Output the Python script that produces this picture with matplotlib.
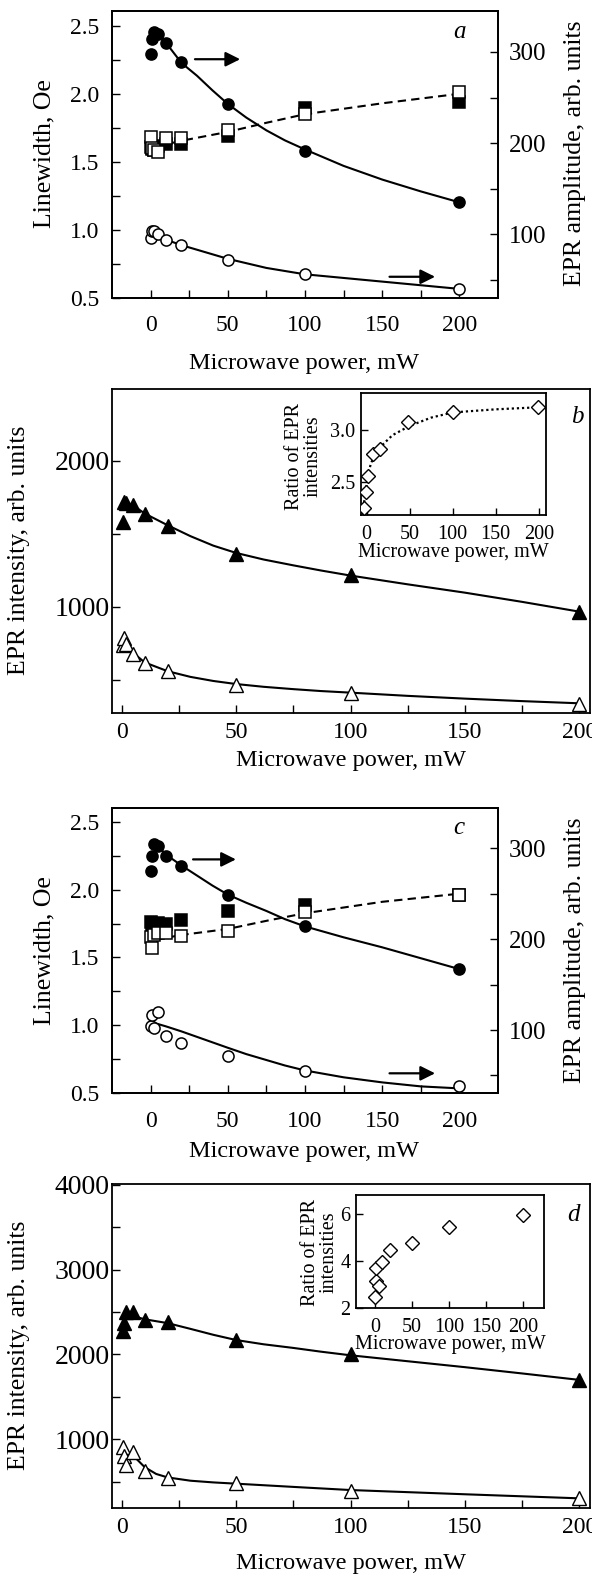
import numpy as np
import matplotlib
matplotlib.use('Agg')
import matplotlib.pyplot as plt
from matplotlib.ticker import FixedLocator, FormatStrFormatter

plt.rcParams['font.family'] = ['Liberation Serif', 'DejaVu Serif']

W, H = 592, 1577

# ---------------- data ----------------
POWER = [0.5, 1, 2, 5, 10, 20, 50, 100, 200]

# panel a
A_AMP_FILLED = [298, 314, 322, 320, 310, 289, 243, 191, 135]      # right axis
A_AMP_OPEN = [96, 104, 103, 100, 94, 88, 72, 56, 40]              # right axis
A_LW_OPEN = [1.68, 1.60, 1.59, 1.574, 1.672, 1.677, 1.733, 1.849, 2.01]
A_LW_FILLED = [1.61, 1.595, 1.585, 1.615, 1.628, 1.63, 1.69, 1.893, 1.94]
A_FIT_FILLED_X = [10, 20, 30, 40, 50, 62, 75, 87, 100, 125, 150, 175, 200]
A_FIT_FILLED_Y = [310, 288, 274, 258, 243, 228, 214, 203, 193, 175, 160, 147, 135]
A_FIT_OPEN_X = [5, 10, 20, 30, 50, 75, 100, 150, 200]
A_FIT_OPEN_Y = [99, 94, 88, 83, 73, 63, 56, 48, 40]
A_FIT_LW_X = [5, 20, 50, 75, 100, 150, 200]
A_FIT_LW_Y = [1.615, 1.655, 1.72, 1.787, 1.85, 1.93, 2.0]

# panel b
B_FILLED = [1582, 1718, 1712, 1700, 1638, 1553, 1366, 1217, 966]
B_OPEN = [738, 784, 749, 681, 616, 560, 464, 411, 338]
B_FIT_FILLED_X = [1, 5, 10, 20, 30, 40, 50, 62, 75, 87, 100, 125, 150, 175, 200]
B_FIT_FILLED_Y = [1715, 1695, 1640, 1560, 1485, 1420, 1370, 1325, 1285, 1250, 1215, 1155, 1098, 1035, 968]
B_FIT_OPEN_X = [2, 5, 10, 20, 30, 40, 50, 62, 75, 87, 100, 125, 150, 175, 200]
B_FIT_OPEN_Y = [742, 685, 620, 560, 521, 493, 472, 453, 437, 424, 413, 391, 372, 355, 340]
B_RATIO_X = [-3, -1, 2, 7, 16, 48, 100, 199]
B_RATIO_Y = [2.243, 2.397, 2.555, 2.765, 2.82, 3.074, 3.171, 3.22]
B_RFIT_X = [-3, 0, 2, 5, 10, 20, 30, 50, 75, 100, 150, 200]
B_RFIT_Y = [2.30, 2.47, 2.58, 2.68, 2.76, 2.87, 2.95, 3.04, 3.12, 3.17, 3.20, 3.22]

# panel c
C_AMP_FILLED = [275, 291, 305, 303, 291, 281, 249, 214, 167]
C_AMP_OPEN = [104, 116, 102, 120, 93, 86, 71, 55, 38.5]
C_LW_FILLED = [1.764, 1.727, 1.69, 1.752, 1.747, 1.776, 1.842, 1.887, 1.96]
C_LW_OPEN = [1.65, 1.568, 1.666, 1.678, 1.678, 1.658, 1.697, 1.837, 1.96]
C_FIT_FILLED_X = [2, 5, 10, 20, 30, 40, 50, 62, 75, 87, 100, 125, 150, 175, 200]
C_FIT_FILLED_Y = [306, 302, 293, 281, 270, 259, 249, 240, 231, 222, 214, 202, 191, 179, 167]
C_FIT_OPEN_X = [0, 10, 20, 30, 40, 50, 62, 75, 87, 100, 125, 150, 175, 200]
C_FIT_OPEN_Y = [109, 104, 98.5, 92.5, 86.5, 80.5, 73.5, 67, 61, 55.5, 48, 42.4, 38, 35.8]
C_FIT_LW_X = [2, 10, 20, 50, 75, 100, 150, 200]
C_FIT_LW_Y = [1.63, 1.645, 1.666, 1.71, 1.77, 1.826, 1.91, 1.97]

# panel d
D_FILLED = [2274, 2373, 2498, 2498, 2404, 2380, 2169, 2000, 1698]
D_OPEN = [902, 796, 694, 843, 627, 538, 479, 392, 302]
D_FIT_FILLED_X = [2, 5, 10, 20, 30, 40, 50, 62, 75, 87, 100, 125, 150, 175, 200]
D_FIT_FILLED_Y = [2470, 2452, 2415, 2370, 2302, 2232, 2170, 2120, 2077, 2033, 1990, 1920, 1850, 1776, 1700]
D_FIT_OPEN_X = [5, 10, 15, 20, 30, 40, 50, 75, 100, 125, 150, 175, 200]
D_FIT_OPEN_Y = [805, 670, 590, 549, 510, 490, 475, 437, 400, 375, 350, 326, 302]
D_RATIO_X = [0.5, 1, 5, 2, 10, 20, 50, 100, 200]
D_RATIO_Y = [2.46, 3.12, 2.92, 3.70, 3.95, 4.47, 4.78, 5.46, 5.97]

XLABEL = "Microwave power, mW"

# ---------------- helpers ----------------
fig = plt.figure(figsize=(W / 100, H / 100), dpi=100)


def rect(l, r, t, b):
    return [l / W, 1 - b / H, (r - l) / W, (b - t) / H]


def ftext(x, y, s, **kw):
    fig.text(x / W, 1 - y / H, s, **kw)


SPW = 1.3
FS = 17
IFS = 14.5
LFS = 18.5


def style(ax, xmaj, xmin, ymaj, ymin, yfmt, fs, xpad, ypad, tl=6, yfs=None):
    for sp in ax.spines.values():
        sp.set_linewidth(SPW)
    ax.xaxis.set_major_locator(FixedLocator(xmaj))
    ax.xaxis.set_minor_locator(FixedLocator(xmin))
    ax.yaxis.set_major_locator(FixedLocator(ymaj))
    ax.yaxis.set_minor_locator(FixedLocator(ymin))
    if yfmt:
        ax.yaxis.set_major_formatter(FormatStrFormatter(yfmt))
    ax.tick_params(axis='both', which='both', direction='in', length=tl,
                   width=1.0, labelsize=fs, top=False, right=False)
    ax.tick_params(axis='x', which='major', pad=xpad)
    ax.tick_params(axis='y', which='major', pad=ypad, labelsize=yfs or fs)


XMAJ = [0, 50, 100, 150, 200]
XMIN = [25, 75, 125, 175]

MS = dict(markersize=8, markeredgewidth=1.1, markeredgecolor='black', linestyle='none')


def arrow(ax, x1, x2, y):
    ax.annotate('', xy=(x2, y), xytext=(x1, y), xycoords='axes fraction',
                arrowprops=dict(arrowstyle='-|>', lw=1.6, color='black',
                                mutation_scale=22, shrinkA=0, shrinkB=0))


def linewidth_panel(rc, lw_open, lw_filled, amp_filled, amp_open,
                    ffx, ffy, fox, foy, flx, fly, ylim_l, ylim_r, arrows, letter_xy, letter):
    ax = fig.add_axes(rect(*rc))
    ax.set_xlim(-25, 225)
    ax.set_ylim(*ylim_l)
    ax.plot(flx, fly, color='black', lw=1.5, ls=(0, (4, 2.5)), zorder=2)
    ax.plot(POWER, lw_filled, marker='s', markerfacecolor='black', zorder=3, **MS)
    ax.plot(POWER, lw_open, marker='s', markerfacecolor='white', zorder=4, **MS)
    style(ax, XMAJ, XMIN, [0.5, 1.0, 1.5, 2.0, 2.5], [0.75, 1.25, 1.75, 2.25],
          '%.1f', FS, 12.5, 9)
    ax2 = ax.twinx()
    ax2.set_ylim(*ylim_r)
    ax2.plot(ffx, ffy, color='black', lw=1.5, zorder=2)
    ax2.plot(fox, foy, color='black', lw=1.5, zorder=2)
    ax2.plot(POWER, amp_filled, marker='o', markerfacecolor='black', zorder=3, **MS)
    ax2.plot(POWER, amp_open, marker='o', markerfacecolor='white', zorder=3, **MS)
    ax2.yaxis.set_major_locator(FixedLocator([100, 200, 300]))
    ax2.yaxis.set_minor_locator(FixedLocator([50, 150, 250]))
    ax2.tick_params(axis='y', which='both', direction='in', length=6, width=1.0,
                    labelsize=18, pad=8)
    for sp in ax2.spines.values():
        sp.set_linewidth(SPW)
    for (x1, x2, y) in arrows:
        arrow(ax2, x1, x2, y)
    ftext(*letter_xy, letter, fontsize=FS + 1, style='italic', ha='center', va='center')
    return ax, ax2


def intensity_panel(rc, filled, opened, ffx, ffy, fox, foy, ylim, ymaj, ymin,
                    inset_rc, rx, ry, rfx, rfy, ixlim, iylim, iymaj, iyfmt,
                    letter_xy, letter, inset_ylabel_xy, inset_xlabel_xy):
    ax = fig.add_axes(rect(*rc))
    ax.set_xlim(-4.3, 204.5)
    ax.set_ylim(*ylim)
    ax.plot(ffx, ffy, color='black', lw=1.5, zorder=2)
    ax.plot(fox, foy, color='black', lw=1.5, zorder=2)
    ax.plot(POWER, filled, marker='^', markerfacecolor='black', zorder=3,
            markersize=9.5, markeredgewidth=1.0, markeredgecolor='black', linestyle='none')
    ax.plot(POWER, opened, marker='^', markerfacecolor='white', zorder=3,
            markersize=9.5, markeredgewidth=1.0, markeredgecolor='black', linestyle='none')
    style(ax, XMAJ, XMIN, ymaj, ymin, None, FS, 6.5, 1.5, yfs=20)
    ftext(*letter_xy, letter, fontsize=FS + 1, style='italic', ha='center', va='center')

    ia = fig.add_axes(rect(*inset_rc))
    ia.set_xlim(*ixlim)
    ia.set_ylim(*iylim)
    if rfx is not None:
        ia.plot(rfx, rfy, color='black', lw=1.6, ls=(0, (1, 1.3)), zorder=2)
    ia.plot(rx, ry, marker='D', markerfacecolor='white', markeredgecolor='black',
            markersize=7, markeredgewidth=1.0, linestyle='none', zorder=3)
    style(ia, XMAJ, [], iymaj, [], iyfmt, IFS, 7.5, 4, tl=5)
    ftext(*inset_ylabel_xy, "Ratio of EPR\nintensities", fontsize=IFS, rotation=90,
          ha='center', va='center', linespacing=0.95)
    ftext(*inset_xlabel_xy, XLABEL, fontsize=IFS, ha='center', va='center')
    return ax, ia


# ---------------- panel a ----------------
linewidth_panel((112, 498, 11, 298), A_LW_OPEN, A_LW_FILLED, A_AMP_FILLED, A_AMP_OPEN,
                A_FIT_FILLED_X, A_FIT_FILLED_Y, A_FIT_OPEN_X, A_FIT_OPEN_Y,
                A_FIT_LW_X, A_FIT_LW_Y, (0.5, 2.608), (30, 345),
                [(0.215, 0.332, 0.832), (0.719, 0.837, 0.074)], (459, 32), 'a')
ftext(44, 154, "Linewidth, Oe", fontsize=LFS, rotation=90, ha='center', va='center')
ftext(575, 153, "EPR amplitude, arb. units", fontsize=LFS, rotation=90, ha='center', va='center')
ftext(304, 364, XLABEL, fontsize=17.5, ha='center', va='center')

# ---------------- panel b ----------------
intensity_panel((112, 589.5, 389.3, 712.5), B_FILLED, B_OPEN,
                B_FIT_FILLED_X, B_FIT_FILLED_Y, B_FIT_OPEN_X, B_FIT_OPEN_Y,
                (277, 2491), [1000, 2000], [500, 1500],
                (361, 545.7, 393.3, 515), B_RATIO_X, B_RATIO_Y, B_RFIT_X, B_RFIT_Y,
                (-6.6, 208), (2.178, 3.355), [2.5, 3.0], '%.1f',
                (577, 417), 'b', (304, 456), (453, 552))
ftext(19, 550, "EPR intensity, arb. units", fontsize=LFS, rotation=90, ha='center', va='center')
ftext(351, 761, XLABEL, fontsize=17.5, ha='center', va='center')

# ---------------- panel c ----------------
linewidth_panel((112, 498, 807.7, 1093.3), C_LW_OPEN, C_LW_FILLED, C_AMP_FILLED, C_AMP_OPEN,
                C_FIT_FILLED_X, C_FIT_FILLED_Y, C_FIT_OPEN_X, C_FIT_OPEN_Y,
                C_FIT_LW_X, C_FIT_LW_Y, (0.5, 2.603), (30.4, 344.6),
                [(0.210, 0.321, 0.819), (0.719, 0.837, 0.070)], (459, 828), 'c')
ftext(44, 951, "Linewidth, Oe", fontsize=LFS, rotation=90, ha='center', va='center')
ftext(575, 950, "EPR amplitude, arb. units", fontsize=LFS, rotation=90, ha='center', va='center')
ftext(304, 1151, XLABEL, fontsize=17.5, ha='center', va='center')

# ---------------- panel d ----------------
intensity_panel((112, 589.5, 1184.3, 1508), D_FILLED, D_OPEN,
                D_FIT_FILLED_X, D_FIT_FILLED_Y, D_FIT_OPEN_X, D_FIT_OPEN_Y,
                (188, 4008), [1000, 2000, 3000, 4000], [500, 1500, 2500, 3500],
                (356, 543.5, 1195, 1307.7), D_RATIO_X, D_RATIO_Y, None, None,
                (-25.7, 228), (2, 6.81), [2, 4, 6], '%d',
                (573, 1215), 'd', (320, 1252), (450, 1344))
ftext(19, 1345, "EPR intensity, arb. units", fontsize=LFS, rotation=90, ha='center', va='center')
ftext(351, 1563, XLABEL, fontsize=17.5, ha='center', va='center')

fig.savefig('out.png', dpi=100)
